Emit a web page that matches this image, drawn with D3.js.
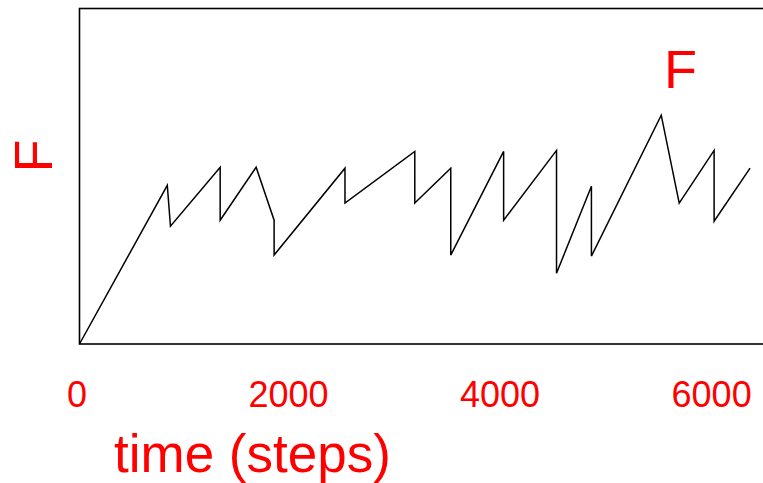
<!DOCTYPE html>
<html>
<head>
<meta charset="utf-8">
<script src="https://cdnjs.cloudflare.com/ajax/libs/d3/7.8.5/d3.min.js"></script>
<style>
  body { margin: 0; background: #fff; }
  text { font-family: "Liberation Sans", Arial, sans-serif; fill: red; }
</style>
</head>
<body>
<div id="chart"></div>
<script>
// time steps and F values
var steps = [0, 830, 860, 1330, 1330, 1670, 1840, 1840, 2510, 2510, 3170, 3170,
             3510, 3510, 4010, 4010, 4510, 4510, 4840, 4840, 5500, 5670, 6000, 6000, 6340];
var F = [0, 47.3, 35.1, 52.7, 36.9, 52.7, 36.9, 26.5, 52.4, 42.0, 57.4, 42.0,
         52.4, 26.5, 57.4, 36.9, 57.7, 21.1, 47.0, 26.2, 68.2, 42.0, 57.7, 36.6, 52.4];
var xTicks = [0, 2000, 4000, 6000];

var W = 763, H = 483;
var plotLeft = 79.5, plotTop = 8.5, plotBottom = 344;

var svg = d3.select("#chart").append("svg")
    .attr("width", W)
    .attr("height", H);

var x = d3.scaleLinear().domain([0, 6500]).range([plotLeft, 767]);
var y = d3.scaleLinear().domain([0, 100]).range([plotBottom, plotTop]);

// frame (runs off the right edge)
svg.append("rect")
    .attr("x", plotLeft)
    .attr("y", plotTop)
    .attr("width", 800 - plotLeft)
    .attr("height", plotBottom - plotTop)
    .attr("fill", "none")
    .attr("stroke", "#000")
    .attr("stroke-width", 1.6);

var line = d3.line()
    .x(function(d, i) { return x(steps[i]); })
    .y(function(d) { return y(d); });

svg.append("path")
    .datum(F)
    .attr("d", line)
    .attr("fill", "none")
    .attr("stroke", "#000")
    .attr("stroke-width", 1.5)
    .attr("stroke-linejoin", "miter");

// x axis labels only
var ax = svg.append("g")
    .attr("transform", "translate(-3," + plotBottom + ")")
    .call(d3.axisBottom(x).tickValues(xTicks).tickFormat(d3.format("d")).tickSize(0));
ax.select(".domain").remove();
ax.selectAll("text")
    .attr("y", 63)
    .attr("dy", 0)
    .style("font-size", "36px")
    .style("font-family", "'Liberation Sans', Arial, sans-serif")
    .attr("fill", "red");

svg.append("text")
    .attr("x", 114)
    .attr("y", 472)
    .style("font-size", "53px")
    .text("time (steps)");

svg.append("text")
    .attr("transform", "translate(52,156) rotate(-90)")
    .attr("text-anchor", "middle")
    .style("font-size", "54px")
    .text("F");

svg.append("text")
    .attr("x", 664)
    .attr("y", 88)
    .style("font-size", "54px")
    .text("F");
</script>
</body>
</html>
